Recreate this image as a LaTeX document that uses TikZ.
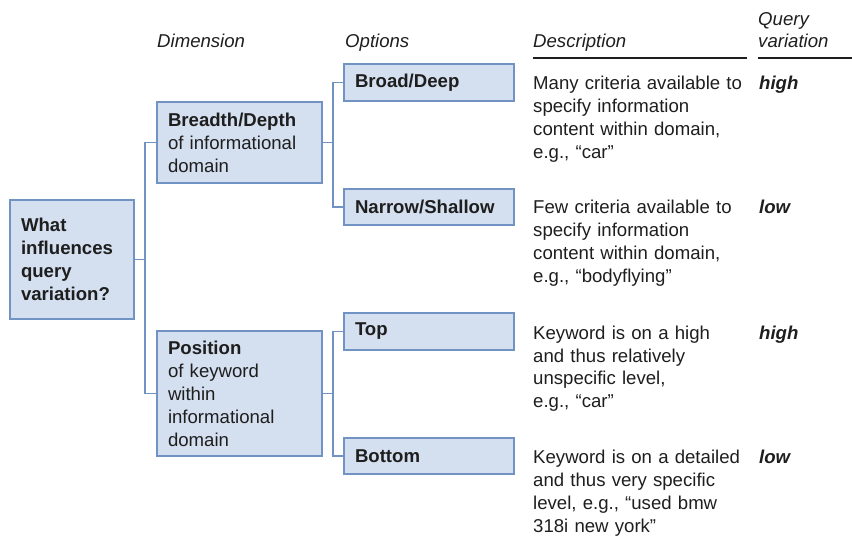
\documentclass[tikz,border=0pt]{standalone}
\usepackage{fontspec}
\setmainfont{Liberation Sans}
\definecolor{boxfill}{RGB}{212,223,239}
\definecolor{boxline}{RGB}{112,147,196}
\definecolor{ink}{RGB}{30,30,30}
\begin{document}
\begin{tikzpicture}[x=1pt,y=-1pt,
  every node/.style={font=\fontsize{18.6}{23}\selectfont, text=ink},
  box/.style={draw=boxline, fill=boxfill, line width=1.5pt, anchor=north west,
    inner xsep=11pt, inner ysep=0pt, outer sep=0pt, align=left},
  link/.style={draw=boxline, line width=1.6pt},
  head/.style={anchor=base west, inner sep=0pt, font=\fontsize{18.6}{23}\selectfont\itshape},
  desc/.style={anchor=base west, align=left, inner sep=0pt, text width=212pt},
  level/.style={anchor=base west, inner sep=0pt, font=\fontsize{18.6}{23}\selectfont\bfseries\itshape},
  rule/.style={draw=ink, line width=1.5pt}]
\useasboundingbox (0,0) rectangle (852,548);

% headers
\node[head] (hdim) at (157,48) {Dimension};
\node[head] (hopt) at (345,48) {Options};
\node[head] (hdesc) at (533,48) {Description};
\node[head, align=left, text width=94pt] (hqv) at (758,26) {Query\\[-1pt]variation};
\coordinate (u1a) at (533,58); \coordinate (u1b) at (747,58);
\coordinate (u2a) at (758,58); \coordinate (u2b) at (852,58);
\draw[rule] (u1a) -- (u1b);
\draw[rule] (u2a) -- (u2b);

% boxes
\node[box, minimum width=124pt, minimum height=119pt, text width=102pt] (root) at (10,200)
  {\textbf{What}\\\textbf{influences}\\\textbf{query}\\\textbf{variation?}};
\node[box, minimum width=165pt, minimum height=81pt, text width=143pt] (bd) at (157,102)
  {\textbf{Breadth/Depth}\\of informational\\domain};
\node[box, minimum width=165pt, minimum height=125pt, text width=143pt] (pos) at (157,331)
  {\textbf{Position}\\of keyword\\within\\informational\\domain};
\node[box, minimum width=170pt, minimum height=37pt, text width=148pt] (broad) at (344,64)
  {\textbf{Broad/Deep}};
\node[box, minimum width=170pt, minimum height=36pt, text width=148pt] (narrow) at (344,189)
  {\textbf{Narrow/Shallow}};
\node[box, minimum width=170pt, minimum height=37pt, text width=148pt] (top) at (344,313)
  {\textbf{Top}};
\node[box, minimum width=170pt, minimum height=36pt, text width=148pt] (bottom) at (344,438)
  {\textbf{Bottom}};

% connectors
\draw[link] (root.east) -- ++(11,0) |- (bd.west);
\draw[link] (root.east) -- ++(11,0) |- (pos.west);
\draw[link] (bd.east) -- ++(11,0) |- (broad.west);
\draw[link] (bd.east) -- ++(11,0) |- (narrow.west);
\draw[link] (pos.east) -- ++(11,0) |- (top.west);
\draw[link] (pos.east) -- ++(11,0) |- (bottom.west);

% descriptions
\node[desc] (d1) at (533,90) {Many criteria available to\\specify information\\content within domain,\\e.g., “car”};
\node[desc] (d2) at (533,214) {Few criteria available to\\specify information\\content within domain,\\e.g., “bodyflying”};
\node[desc] (d3) at (533,339) {Keyword is on a high\\and thus relatively\\unspecific level,\\e.g., “car”};
\node[desc] (d4) at (533,463) {Keyword is on a detailed\\and thus very specific\\level, e.g., “used bmw\\318i new york”};

% query variation levels
\node[level] (l1) at (759,90) {high};
\node[level] (l2) at (759,214) {low};
\node[level] (l3) at (759,339) {high};
\node[level] (l4) at (759,463) {low};
\end{tikzpicture}
\end{document}
